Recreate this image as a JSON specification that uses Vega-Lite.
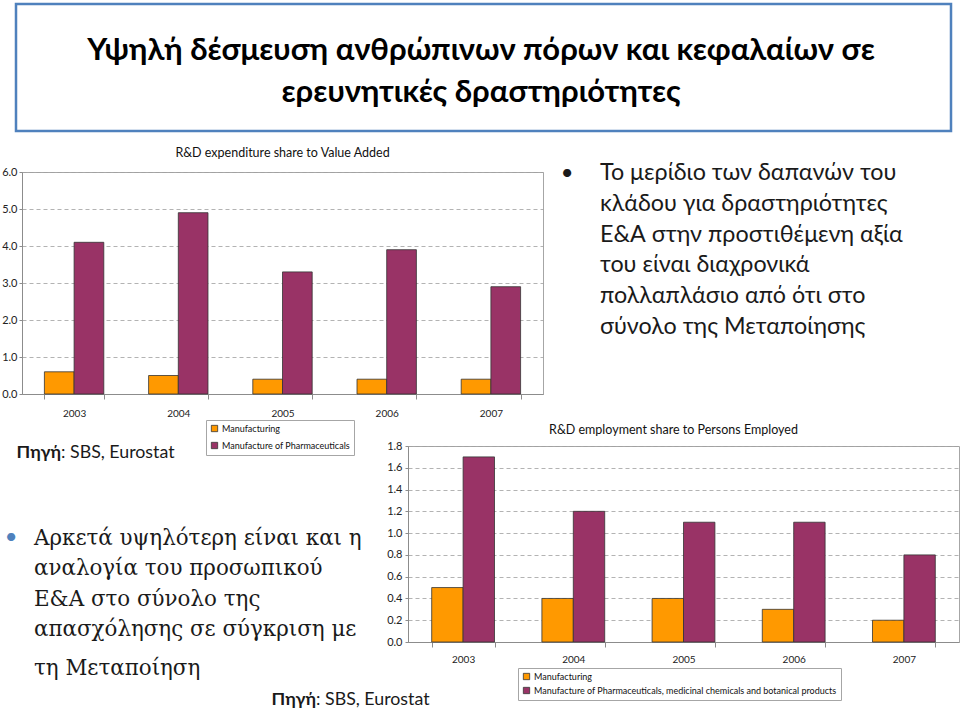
{
  "$schema": "https://vega.github.io/schema/vega-lite/v6.json",
  "padding": {"left": 1, "top": 2, "right": 0, "bottom": 0},
  "background": "white",
  "bounds": "flush",
  "spacing": 41,
  "config": {"view": {"stroke": null}},
  "datasets": {
    "exp": [
      {"year": "2003", "series": "Manufacturing", "value": 0.6},
      {"year": "2003", "series": "Manufacture of Pharmaceuticals", "value": 4.1},
      {"year": "2004", "series": "Manufacturing", "value": 0.5},
      {"year": "2004", "series": "Manufacture of Pharmaceuticals", "value": 4.9},
      {"year": "2005", "series": "Manufacturing", "value": 0.4},
      {"year": "2005", "series": "Manufacture of Pharmaceuticals", "value": 3.3},
      {"year": "2006", "series": "Manufacturing", "value": 0.4},
      {"year": "2006", "series": "Manufacture of Pharmaceuticals", "value": 3.9},
      {"year": "2007", "series": "Manufacturing", "value": 0.4},
      {"year": "2007", "series": "Manufacture of Pharmaceuticals", "value": 2.9}
    ],
    "emp": [
      {"year": "2003", "series": "Manufacturing", "value": 0.5},
      {"year": "2003", "series": "Manufacture of Pharmaceuticals, medicinal chemicals and botanical products", "value": 1.7},
      {"year": "2004", "series": "Manufacturing", "value": 0.4},
      {"year": "2004", "series": "Manufacture of Pharmaceuticals, medicinal chemicals and botanical products", "value": 1.2},
      {"year": "2005", "series": "Manufacturing", "value": 0.4},
      {"year": "2005", "series": "Manufacture of Pharmaceuticals, medicinal chemicals and botanical products", "value": 1.1},
      {"year": "2006", "series": "Manufacturing", "value": 0.3},
      {"year": "2006", "series": "Manufacture of Pharmaceuticals, medicinal chemicals and botanical products", "value": 1.1},
      {"year": "2007", "series": "Manufacturing", "value": 0.2},
      {"year": "2007", "series": "Manufacture of Pharmaceuticals, medicinal chemicals and botanical products", "value": 0.8}
    ],
    "blank": [{}],
    "none": []
  },
  "resolve": {"scale": {"color": "independent", "xOffset": "independent"}, "legend": {"color": "independent"}},
  "vconcat": [
    {
      "width": 935,
      "height": 127,
      "view": {"stroke": "#4F81BD", "strokeWidth": 2.5},
      "data": {"name": "blank"},
      "mark": {"type": "text", "font": "Lato, Roboto, sans-serif", "fontWeight": "bold", "fontSize": 31, "align": "center", "baseline": "alphabetic", "lineHeight": 42, "color": "#000000"},
      "encoding": {
        "x": {"value": 465},
        "y": {"value": 56},
        "text": {"value": ["Υψηλή δέσμευση ανθρώπινων πόρων και κεφαλαίων σε", "ερευνητικές δραστηριότητες"]}
      }
    },
    {
      "bounds": "flush",
      "spacing": 5,
      "resolve": {"scale": {"color": "independent", "xOffset": "independent"}, "legend": {"color": "independent"}},
      "hconcat": [
        {
          "width": 1,
          "height": 1,
          "data": {"name": "none"},
          "mark": "text",
          "encoding": {}
        },
        {
          "width": 521,
          "height": 222,
          "view": {"stroke": "#a6a6a6", "strokeWidth": 1},
          "data": {"name": "exp"},
          "title": {"text": "R&D expenditure share to Value Added", "font": "Lato, Roboto, sans-serif", "fontSize": 12.5, "fontWeight": "normal", "color": "#111111", "offset": 7},
          "mark": {"type": "bar", "stroke": "#333333", "strokeWidth": 0.8},
          "encoding": {
            "x": {
              "field": "year", "type": "nominal",
              "scale": {"paddingInner": 0.43, "paddingOuter": 0.215},
              "axis": {"title": null, "labelAngle": 0, "labelFont": "Lato, Roboto, sans-serif", "labelFontSize": 10, "labelColor": "#222222", "domainColor": "#8c8c8c", "tickColor": "#8c8c8c", "tickSize": 5, "tickBand": "extent", "labelPadding": 9, "grid": false}
            },
            "xOffset": {
              "field": "series", "type": "nominal",
              "scale": {"domain": ["Manufacturing", "Manufacture of Pharmaceuticals"], "paddingInner": 0, "paddingOuter": 0}
            },
            "y": {
              "field": "value", "type": "quantitative",
              "scale": {"domain": [0, 6], "nice": false},
              "axis": {"title": null, "values": [0, 1, 2, 3, 4, 5, 6], "format": ".1f", "labelFont": "Lato, Roboto, sans-serif", "labelFontSize": 11, "labelColor": "#222222", "domainColor": "#8c8c8c", "tickColor": "#8c8c8c", "tickSize": 3, "labelPadding": 2, "gridColor": "#a0a0a0", "gridDash": [4, 3], "gridWidth": 0.8}
            },
            "color": {
              "field": "series", "type": "nominal",
              "scale": {"domain": ["Manufacturing", "Manufacture of Pharmaceuticals"], "range": ["#FF9900", "#993366"]},
              "legend": {"orient": "none", "legendX": 184, "legendY": 248, "title": null, "strokeColor": "#a6a6a6", "fillColor": "white", "padding": 4, "symbolType": "square", "symbolSize": 40, "symbolStrokeColor": "#333333", "symbolStrokeWidth": 0.8, "labelFont": "Lato, Roboto, sans-serif", "labelFontSize": 9, "labelColor": "#111111", "rowPadding": 6, "labelOffset": 3, "labelLimit": 400}
            }
          }
        },
        {
          "width": 400,
          "height": 233,
          "data": {"name": "blank"},
          "layer": [
            {
              "mark": {"type": "text", "font": "Lato, Roboto, sans-serif", "fontSize": 22, "align": "center", "baseline": "middle", "color": "#1a1a1a"},
              "encoding": {"x": {"value": 19}, "y": {"value": 1}, "text": {"value": "•"}}
            },
            {
              "mark": {"type": "text", "font": "Lato, Roboto, sans-serif", "fontSize": 23.3, "align": "left", "baseline": "alphabetic", "lineHeight": 30.8, "color": "#1a1a1a"},
              "encoding": {
                "x": {"value": 52},
                "y": {"value": 8},
                "text": {"value": ["Το μερίδιο των δαπανών του", "κλάδου για δραστηριότητες", "Ε&Α στην προστιθέμενη αξία", "του είναι διαχρονικά", "πολλαπλάσιο από ότι στο", "σύνολο της Μεταποίησης"]}
              }
            }
          ]
        }
      ]
    },
    {
      "width": 1,
      "height": 192,
      "data": {"name": "none"},
      "mark": "text",
      "encoding": {}
    },
    {
      "bounds": "flush",
      "spacing": 10,
      "resolve": {"scale": {"color": "independent", "xOffset": "independent"}, "legend": {"color": "independent"}},
      "hconcat": [
        {
          "width": 382,
          "height": 196,
          "data": {"name": "blank"},
          "layer": [
            {
              "mark": {"type": "text", "font": "Lato, Roboto, sans-serif", "fontSize": 22, "align": "center", "baseline": "middle", "color": "#4F81BD"},
              "encoding": {"x": {"value": -5}, "y": {"value": 91}, "text": {"value": "•"}}
            },
            {
              "mark": {"type": "text", "font": "DejaVu Serif, serif", "fontSize": 21.4, "align": "left", "baseline": "alphabetic", "lineHeight": 30.3, "color": "#1a1a1a"},
              "encoding": {
                "x": {"value": 18},
                "y": {"value": 99},
                "text": {"value": ["Αρκετά υψηλότερη είναι και η", "αναλογία του προσωπικού", "Ε&Α στο σύνολο της", "απασχόλησης σε σύγκριση με"]}
              }
            },
            {
              "mark": {"type": "text", "font": "DejaVu Serif, serif", "fontSize": 21.4, "align": "left", "baseline": "alphabetic", "color": "#1a1a1a"},
              "encoding": {"x": {"value": 18}, "y": {"value": 229}, "text": {"value": "τη Μεταποίηση"}}
            },
            {
              "mark": {"type": "text", "font": "Lato, Roboto, sans-serif", "fontSize": 17.8, "fontWeight": "bold", "align": "right", "baseline": "alphabetic", "color": "#1a1a1a"},
              "encoding": {"x": {"value": 45}, "y": {"value": 12}, "text": {"value": "Πηγή"}}
            },
            {
              "mark": {"type": "text", "font": "Lato, Roboto, sans-serif", "fontSize": 17.8, "align": "left", "baseline": "alphabetic", "color": "#1a1a1a"},
              "encoding": {"x": {"value": 45}, "y": {"value": 12}, "text": {"value": ": SBS, Eurostat"}}
            },
            {
              "mark": {"type": "text", "font": "Lato, Roboto, sans-serif", "fontSize": 17.8, "fontWeight": "bold", "align": "right", "baseline": "alphabetic", "color": "#1a1a1a"},
              "encoding": {"x": {"value": 300}, "y": {"value": 259}, "text": {"value": "Πηγή"}}
            },
            {
              "mark": {"type": "text", "font": "Lato, Roboto, sans-serif", "fontSize": 17.8, "align": "left", "baseline": "alphabetic", "color": "#1a1a1a"},
              "encoding": {"x": {"value": 300}, "y": {"value": 259}, "text": {"value": ": SBS, Eurostat"}}
            }
          ]
        },
        {
          "width": 551,
          "height": 196,
          "view": {"stroke": "#a6a6a6", "strokeWidth": 1},
          "data": {"name": "emp"},
          "title": {"text": "R&D employment share to Persons Employed", "font": "Lato, Roboto, sans-serif", "fontSize": 12.5, "fontWeight": "normal", "color": "#111111", "offset": 4, "dx": -10},
          "mark": {"type": "bar", "stroke": "#333333", "strokeWidth": 0.8},
          "encoding": {
            "x": {
              "field": "year", "type": "nominal",
              "scale": {"paddingInner": 0.43, "paddingOuter": 0.215},
              "axis": {"title": null, "labelAngle": 0, "labelFont": "Lato, Roboto, sans-serif", "labelFontSize": 10, "labelColor": "#222222", "domainColor": "#8c8c8c", "tickColor": "#8c8c8c", "tickSize": 5, "tickBand": "extent", "labelPadding": 7, "grid": false}
            },
            "xOffset": {
              "field": "series", "type": "nominal",
              "scale": {"domain": ["Manufacturing", "Manufacture of Pharmaceuticals, medicinal chemicals and botanical products"], "paddingInner": 0, "paddingOuter": 0}
            },
            "y": {
              "field": "value", "type": "quantitative",
              "scale": {"domain": [0, 1.8], "nice": false},
              "axis": {"title": null, "values": [0, 0.2, 0.4, 0.6, 0.8, 1.0, 1.2, 1.4, 1.6, 1.8], "format": ".1f", "labelFont": "Lato, Roboto, sans-serif", "labelFontSize": 11, "labelColor": "#222222", "domainColor": "#8c8c8c", "tickColor": "#8c8c8c", "tickSize": 3, "labelPadding": 3, "gridColor": "#a0a0a0", "gridDash": [4, 3], "gridWidth": 0.8}
            },
            "color": {
              "field": "series", "type": "nominal",
              "scale": {"domain": ["Manufacturing", "Manufacture of Pharmaceuticals, medicinal chemicals and botanical products"], "range": ["#FF9900", "#993366"]},
              "legend": {"orient": "none", "legendX": 110, "legendY": 222, "title": null, "strokeColor": "#a6a6a6", "fillColor": "white", "padding": 4, "symbolType": "square", "symbolSize": 40, "symbolStrokeColor": "#333333", "symbolStrokeWidth": 0.8, "labelFont": "Lato, Roboto, sans-serif", "labelFontSize": 9, "labelColor": "#111111", "rowPadding": 3, "labelOffset": 3, "labelLimit": 400}
            }
          }
        }
      ]
    }
  ]
}
